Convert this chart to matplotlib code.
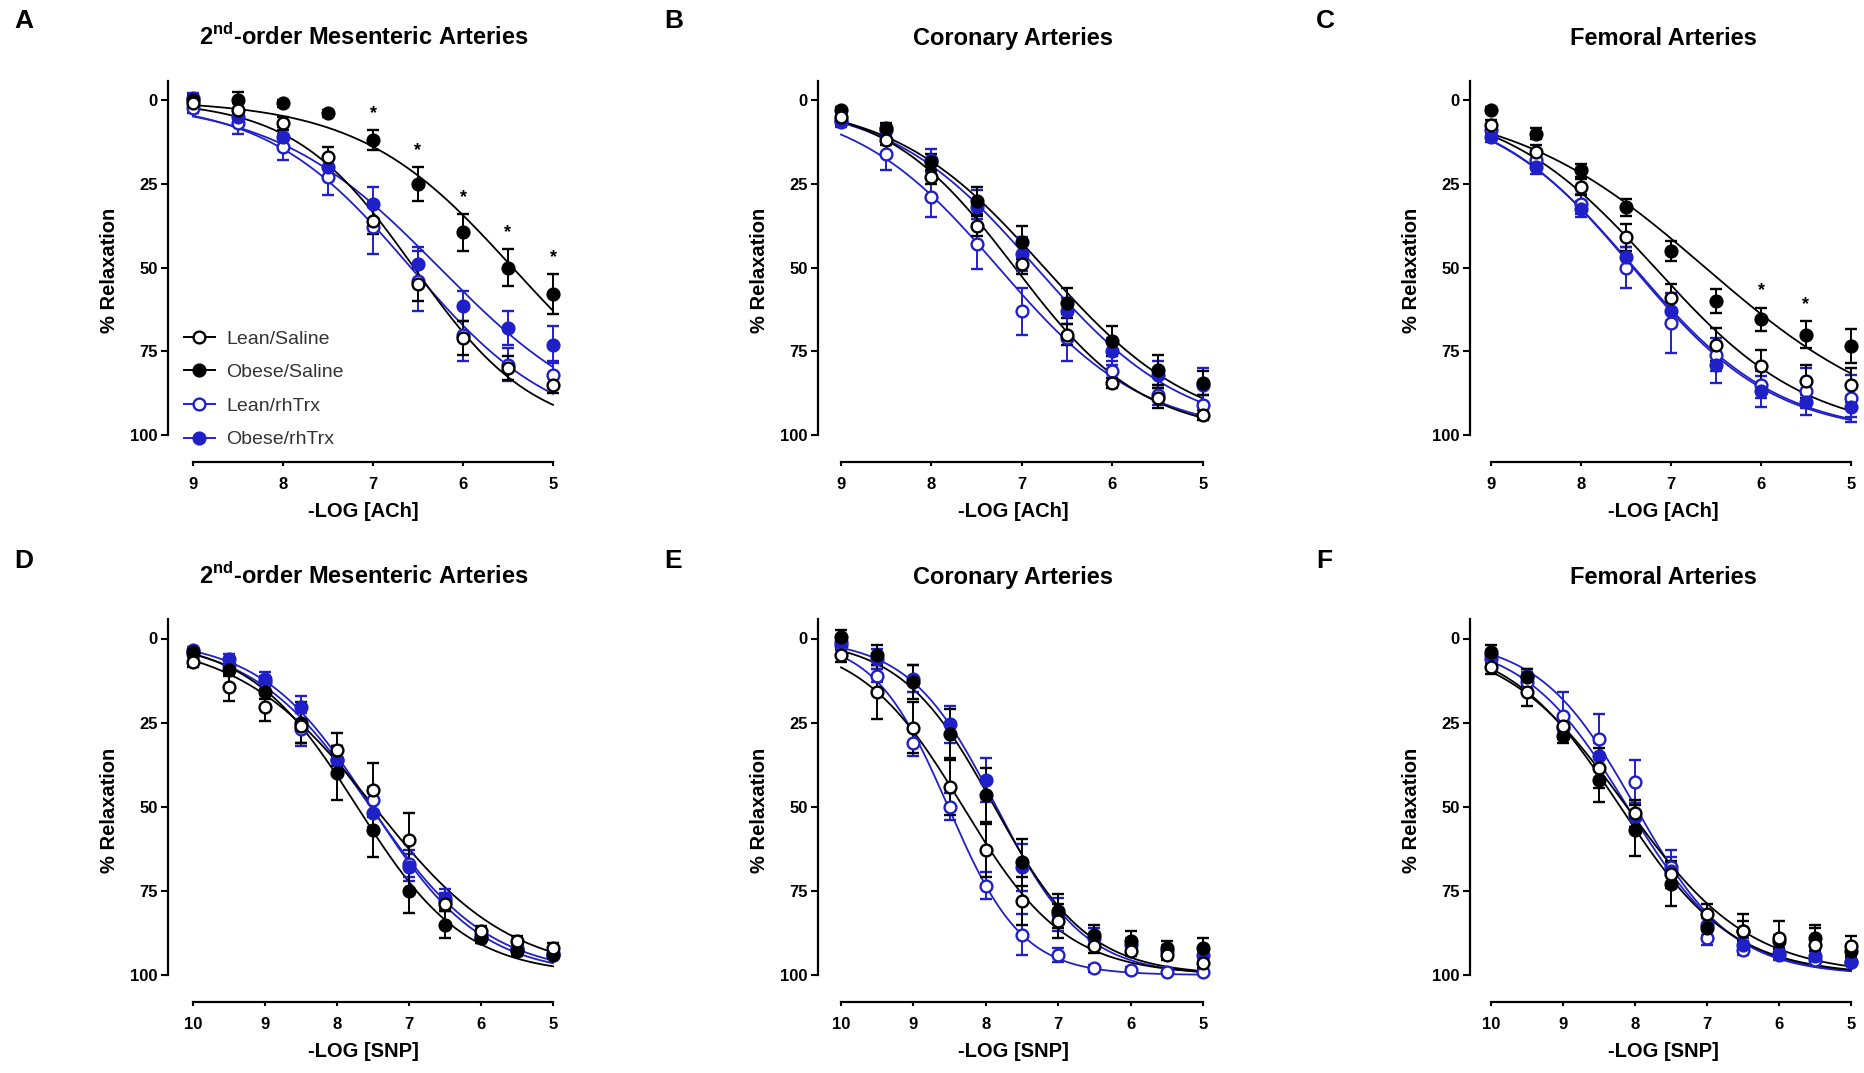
import numpy as np
import matplotlib
matplotlib.use("Agg")
from matplotlib import pyplot as plt
from matplotlib.lines import Line2D

plt.rcParams['font.family'] = ['Liberation Sans', 'DejaVu Sans']
plt.rcParams['mathtext.fontset'] = 'custom'
plt.rcParams['mathtext.rm'] = 'Liberation Sans:bold'
plt.rcParams['mathtext.bf'] = 'Liberation Sans:bold'

# log concentrations (x axes)
ach_x = [9, 8.5, 8, 7.5, 7, 6.5, 6, 5.5, 5]
snp_x = [10, 9.5, 9, 8.5, 8, 7.5, 7, 6.5, 6, 5.5, 5]

group_names = ['Lean/Saline', 'Obese/Saline', 'Lean/rhTrx', 'Obese/rhTrx']

# A - mesenteric, ACh
mes_ach_lean_sal = [1, 3, 7, 17, 36, 55, 71, 80, 85]
mes_ach_lean_sal_sem = [1.5, 2, 2, 3, 4, 5, 5, 3.5, 2.5]
mes_ach_obese_sal = [0, 0, 1, 4, 12, 25, 39.5, 50, 58]
mes_ach_obese_sal_sem = [1.5, 2.5, 1, 1, 3, 5, 5.5, 5.5, 6]
mes_ach_lean_trx = [2.5, 7, 14, 23, 38, 54, 70, 79, 82]
mes_ach_lean_trx_sem = [1.5, 3, 4, 5.5, 8, 9, 8, 5, 4]
mes_ach_obese_trx = [-0.5, 5, 11, 20, 31, 49, 61.5, 68, 73]
mes_ach_obese_trx_sem = [1.5, 2, 3, 3, 5, 5, 4.5, 5, 5.5]
mes_ach_stars = [7, 6.5, 6, 5.5, 5]

# B - coronary, ACh
cor_ach_lean_sal = [5, 12, 23, 37.5, 49, 70, 84.5, 89, 94]
cor_ach_lean_sal_sem = [1, 1.5, 2, 3, 3, 3, 1.5, 3, 1.5]
cor_ach_obese_sal = [3, 8.5, 18.5, 30, 42.5, 60.5, 72, 80.5, 84.5]
cor_ach_obese_sal_sem = [1, 1.5, 2.5, 4, 5, 4.5, 4.5, 4.5, 3.5]
cor_ach_lean_trx = [6.5, 16, 29, 43, 63, 71, 81, 88, 91]
cor_ach_lean_trx_sem = [1.5, 5, 6, 7.5, 7, 7, 3, 3, 3]
cor_ach_obese_trx = [6, 9, 18, 32, 46, 63, 75, 82, 85]
cor_ach_obese_trx_sem = [1.5, 1.5, 3.5, 5, 5, 4, 4, 4, 5]
cor_ach_stars = []

# C - femoral, ACh
fem_ach_lean_sal = [7.5, 15.5, 26, 41, 59, 73, 79.5, 84, 85]
fem_ach_lean_sal_sem = [1.5, 2, 2.5, 4, 4, 5, 5, 5, 5]
fem_ach_obese_sal = [3, 10, 21, 32, 45, 60, 65.5, 70, 73.5]
fem_ach_obese_sal_sem = [1, 1.5, 2, 2.5, 3, 3.5, 3.5, 4, 5]
fem_ach_lean_trx = [9, 18, 31, 50, 66.5, 76, 85, 87, 89]
fem_ach_lean_trx_sem = [1.5, 2, 3, 6, 9, 5, 4, 7, 7]
fem_ach_obese_trx = [11, 20, 32.5, 47, 63, 79, 87, 90, 91.5]
fem_ach_obese_trx_sem = [1.5, 2, 2.5, 3, 3, 5.5, 4.5, 2, 3]
fem_ach_stars = [6, 5.5]

# D - mesenteric, SNP
mes_snp_lean_sal = [7, 14.5, 20.5, 26, 33, 45, 60, 79, 87, 90, 92]
mes_snp_lean_sal_sem = [1.5, 4, 4, 5, 5, 8, 8, 2, 1.5, 1.5, 1.5]
mes_snp_obese_sal = [4, 9.5, 16, 25, 40, 57, 75, 85, 89, 93, 94]
mes_snp_obese_sal_sem = [1, 1.5, 2, 6, 8, 8, 6.5, 4, 1.5, 1.5, 1]
mes_snp_lean_trx = [4.5, 8, 13, 27, 36, 48, 67, 78, 88, 92, 93.5]
mes_snp_lean_trx_sem = [1, 1.5, 2, 5, 4, 4, 4, 2.5, 1.5, 1.5, 1]
mes_snp_obese_trx = [3.5, 6, 12, 20.5, 36, 52, 68, 77, 89, 92.5, 94]
mes_snp_obese_trx_sem = [1, 1.5, 2, 3.5, 4, 4, 4, 2.5, 1.5, 1.5, 1]

# E - coronary, SNP
cor_snp_lean_sal = [5, 16, 26.5, 44, 63, 78, 84, 91.5, 93, 94, 96.5]
cor_snp_lean_sal_sem = [2, 8, 7.5, 8.5, 8, 7, 5, 2, 1.5, 1.5, 1.5]
cor_snp_obese_sal = [-0.5, 5, 13, 28.5, 46.5, 66.5, 81, 88, 90, 92, 92]
cor_snp_obese_sal_sem = [2, 3, 5, 7.5, 8, 7, 5, 3, 3, 2, 3]
cor_snp_lean_trx = [2, 11, 31, 50, 73.5, 88, 94, 98, 98.5, 99, 99]
cor_snp_lean_trx_sem = [1.5, 2, 4, 4, 4, 6, 2, 1, 1, 0.8, 0.8]
cor_snp_obese_trx = [1, 6, 12, 25.5, 42, 68, 82, 89, 91, 93, 94]
cor_snp_obese_trx_sem = [2, 3, 4, 5.5, 6.5, 7, 5, 3, 2, 2, 2]

# F - femoral, SNP
fem_snp_lean_sal = [8.5, 16, 26, 38.5, 52, 70, 82, 87, 89, 91, 91.5]
fem_snp_lean_sal_sem = [2, 4, 3, 6, 4, 4, 3, 5, 5, 5, 3]
fem_snp_obese_sal = [4, 11.5, 29, 42, 57, 73, 86, 87, 90, 89, 93]
fem_snp_obese_sal_sem = [2, 2.5, 2, 6.5, 7.5, 6.5, 3, 3, 2, 4, 2]
fem_snp_lean_trx = [6, 13, 23, 30, 42.5, 68, 89, 92.5, 94, 95.5, 96]
fem_snp_lean_trx_sem = [1.5, 3, 7, 7.5, 6.5, 5, 2, 1.5, 1.5, 1.5, 1]
fem_snp_obese_trx = [5, 11, 26.5, 35, 53, 69, 85, 91, 93.5, 94.5, 96]
fem_snp_obese_trx_sem = [1.5, 2, 3, 4, 4, 4, 3, 2, 1.5, 1.5, 1]

BLUE = '#2020c8'
W, H = 1865, 1073


def fit_sigmoid(x, y):
    # normalized response (0..100), variable slope: grid search on logEC50 / hill
    c = -np.asarray(x, float)
    y = np.asarray(y, float)
    L = np.arange(-11.0, -3.0, 0.005)[:, None, None]
    Hs = np.arange(0.2, 3.0, 0.01)[None, :, None]
    pred = 100.0 / (1.0 + 10.0 ** ((L - c) * Hs))
    sse = ((pred - y) ** 2).sum(-1)
    i, j = np.unravel_index(np.argmin(sse), sse.shape)
    le, h = L[i, 0, 0], Hs[0, j, 0]

    def f(xx):
        return 100.0 / (1.0 + 10.0 ** ((le + np.asarray(xx)) * h))
    return f


panels = [
    ('A', 0, 0, r'2$^{\mathrm{nd}}$-order Mesenteric Arteries', '-LOG [ACh]', ach_x,
     [(mes_ach_lean_trx, mes_ach_lean_trx_sem), (mes_ach_obese_trx, mes_ach_obese_trx_sem),
      (mes_ach_obese_sal, mes_ach_obese_sal_sem), (mes_ach_lean_sal, mes_ach_lean_sal_sem)],
     mes_ach_stars),
    ('B', 0, 1, 'Coronary Arteries', '-LOG [ACh]', ach_x,
     [(cor_ach_lean_trx, cor_ach_lean_trx_sem), (cor_ach_obese_trx, cor_ach_obese_trx_sem),
      (cor_ach_obese_sal, cor_ach_obese_sal_sem), (cor_ach_lean_sal, cor_ach_lean_sal_sem)],
     cor_ach_stars),
    ('C', 0, 2, 'Femoral Arteries', '-LOG [ACh]', ach_x,
     [(fem_ach_lean_trx, fem_ach_lean_trx_sem), (fem_ach_obese_trx, fem_ach_obese_trx_sem),
      (fem_ach_obese_sal, fem_ach_obese_sal_sem), (fem_ach_lean_sal, fem_ach_lean_sal_sem)],
     fem_ach_stars),
    ('D', 1, 0, r'2$^{\mathrm{nd}}$-order Mesenteric Arteries', '-LOG [SNP]', snp_x,
     [(mes_snp_lean_trx, mes_snp_lean_trx_sem), (mes_snp_obese_trx, mes_snp_obese_trx_sem),
      (mes_snp_obese_sal, mes_snp_obese_sal_sem), (mes_snp_lean_sal, mes_snp_lean_sal_sem)],
     []),
    ('E', 1, 1, 'Coronary Arteries', '-LOG [SNP]', snp_x,
     [(cor_snp_lean_trx, cor_snp_lean_trx_sem), (cor_snp_obese_trx, cor_snp_obese_trx_sem),
      (cor_snp_obese_sal, cor_snp_obese_sal_sem), (cor_snp_lean_sal, cor_snp_lean_sal_sem)],
     []),
    ('F', 1, 2, 'Femoral Arteries', '-LOG [SNP]', snp_x,
     [(fem_snp_lean_trx, fem_snp_lean_trx_sem), (fem_snp_obese_trx, fem_snp_obese_trx_sem),
      (fem_snp_obese_sal, fem_snp_obese_sal_sem), (fem_snp_lean_sal, fem_snp_lean_sal_sem)],
     []),
]

# drawing order: Lean/rhTrx, Obese/rhTrx, Obese/Saline, Lean/Saline
styles = [
    dict(color=BLUE, mfc='white', name='Lean/rhTrx'),
    dict(color=BLUE, mfc=BLUE, name='Obese/rhTrx'),
    dict(color='black', mfc='black', name='Obese/Saline'),
    dict(color='black', mfc='white', name='Lean/Saline'),
]

# pixel layout of the original figure
col_spine = [168, 818, 1470]
col_first = [193, 841, 1491]
col_last = [553, 1203, 1851]
row_zero = [100, 638.5]
row_hund = [435, 975]
Y_TOP, Y_BOT = -6, 108

fig = plt.figure(figsize=(W / 100, H / 100), dpi=100)

for letter, r, col, title, xlabel, xs, series, stars in panels:
    x0 = xs[0]
    upp = (x0 - 5) / (col_last[col] - col_first[col])
    xl = x0 + (col_first[col] - col_spine[col]) * upp
    xr = 5 - 6 * upp
    ppu = (row_hund[r] - row_zero[r]) / 100.0
    top_px = row_zero[r] + Y_TOP * ppu
    bot_px = row_zero[r] + Y_BOT * ppu
    right_px = col_last[col] + 6
    ax = fig.add_axes([col_spine[col] / W, 1 - bot_px / H,
                       (right_px - col_spine[col]) / W, (bot_px - top_px) / H])
    ax.set_xlim(xl, xr)
    ax.set_ylim(Y_BOT, Y_TOP)

    xx = np.linspace(x0, 5, 300)
    for (vals, sem), st in zip(series, styles):
        f = fit_sigmoid(xs, vals)
        ax.plot(xx, f(xx), color=st['color'], lw=1.3, zorder=2)
        ax.errorbar(xs, vals, yerr=sem, fmt='o', color=st['color'], mfc=st['mfc'],
                    mec=st['color'], ms=8.5, mew=1.7, elinewidth=1.4, capsize=4.5,
                    capthick=1.4, zorder=3, clip_on=False)

    obese_sal, obese_sem = series[2]
    for sx in stars:
        k = xs.index(sx)
        ax.text(sx, obese_sal[k] - obese_sem[k] - 5, '*', ha='center', va='center',
                fontsize=13, fontweight='bold')

    for side in ('top', 'right'):
        ax.spines[side].set_visible(False)
    ax.spines['left'].set_bounds(-5.7, 100)
    ax.spines['bottom'].set_bounds(x0, 5)
    for side in ('left', 'bottom'):
        ax.spines[side].set_linewidth(1.6)
    ax.set_yticks([0, 25, 50, 75, 100])
    ax.set_xticks(list(range(int(x0), 4, -1)))
    ax.tick_params(axis='y', direction='out', length=5, width=1.5, pad=2.5, labelsize=12)
    ax.tick_params(axis='x', direction='out', length=3, width=1.5, pad=8, labelsize=12)
    for lab in ax.get_xticklabels() + ax.get_yticklabels():
        lab.set_fontweight('bold')
    ax.set_xlabel(xlabel, fontsize=14.5, fontweight='bold', labelpad=7)
    ax.set_ylabel('% Relaxation', fontsize=14.5, fontweight='bold', labelpad=8)
    ax.set_title(title, fontsize=17, fontweight='bold', pad=25)

    fig.text((col_spine[col] - 154) / W, 1 - (21 + 540 * r) / H, letter,
             fontsize=19, fontweight='bold', va='center', ha='left')

    if letter == 'A':
        handles = []
        for st in [styles[3], styles[2], styles[0], styles[1]]:
            handles.append(Line2D([], [], color=st['color'], marker='o', mfc=st['mfc'],
                                  mec=st['color'], ms=8.5, mew=1.7, lw=1.4))
        ax.legend(handles, group_names, loc='center left', bbox_to_anchor=(0.04, 0.19),
                  frameon=False, fontsize=14, labelcolor='#333333', handlelength=1.6,
                  handletextpad=0.6, labelspacing=0.82, borderpad=0, borderaxespad=0)

fig.savefig('out.png', dpi=100)
